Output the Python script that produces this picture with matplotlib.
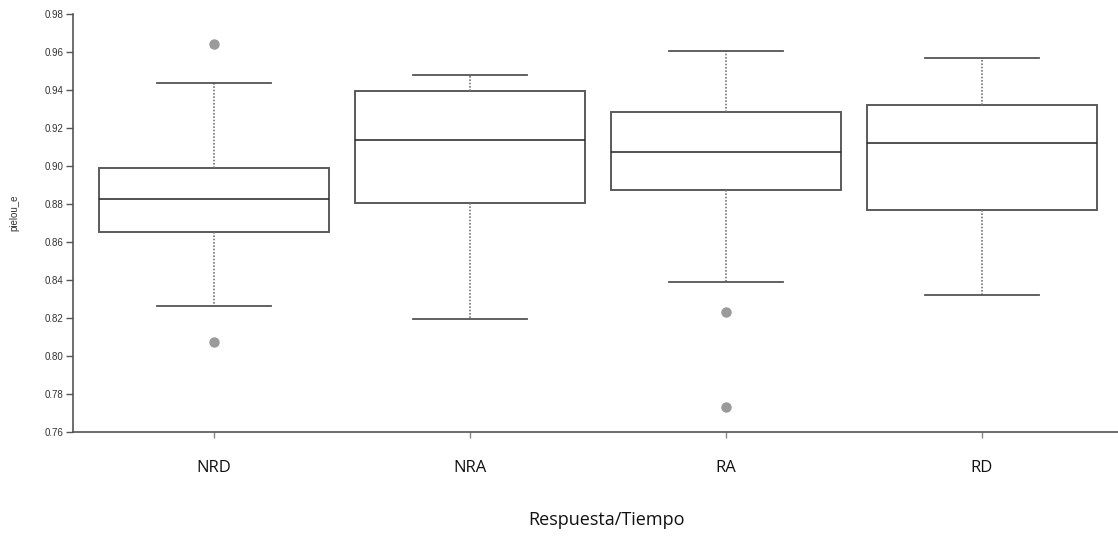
import matplotlib
matplotlib.use("Agg")
import matplotlib.pyplot as plt

# Group labels and five-number summaries of Pielou's evenness
groups = ["NRD", "NRA", "RA", "RD"]
whisker_low = [0.8265, 0.8195, 0.8388, 0.8320]
q1 = [0.8653, 0.8804, 0.8875, 0.8767]
median = [0.8825, 0.9137, 0.9075, 0.9120]
q3 = [0.8991, 0.9393, 0.9286, 0.9319]
whisker_high = [0.9435, 0.9481, 0.9607, 0.9570]
outliers = [[0.9641, 0.8075], [], [0.8230, 0.7733], []]

y_ticks = [0.76, 0.78, 0.80, 0.82, 0.84, 0.86, 0.88, 0.90, 0.92, 0.94, 0.96, 0.98]

W, H = 1118, 536
fig = plt.figure(figsize=(W / 100, H / 100), dpi=100)
ax = fig.add_axes([73 / W, 104 / H, (W - 73) / W, (432 - 14) / H])

stats = []
for i, g in enumerate(groups):
    stats.append(dict(label=g, whislo=whisker_low[i], q1=q1[i], med=median[i],
                      q3=q3[i], whishi=whisker_high[i], fliers=outliers[i]))

edge = "#5a5a5a"
ax.bxp(stats, positions=range(len(groups)), widths=0.9, patch_artist=True,
       boxprops=dict(facecolor="white", edgecolor=edge, linewidth=1.4),
       medianprops=dict(color="#222222", linewidth=1.1),
       whiskerprops=dict(color="#777777", linewidth=1.2, linestyle=(0, (1, 1))),
       capprops=dict(color="#555555", linewidth=1.3),
       capwidths=0.445,
       flierprops=dict(marker="o", markerfacecolor="#9a9a9a", markeredgecolor="#9a9a9a",
                       markersize=6.5))

ax.set_xlim(-(214 - 73) / 256, 3 + (W - 982) / 256)
ax.set_ylim(0.76, 0.98)
ax.set_yticks(y_ticks)
ax.set_yticklabels([f"{v:.2f}" for v in y_ticks], fontsize=7, color="#333333",
                   family="Liberation Sans")
ax.set_xticks(range(len(groups)))
ax.set_xticklabels(groups, fontsize=12, family="Open Sans", color="#111111")

for s in ["top", "right"]:
    ax.spines[s].set_visible(False)
for s in ["left", "bottom"]:
    ax.spines[s].set_color("#555555")
    ax.spines[s].set_linewidth(1.2)

ax.tick_params(axis="y", length=5, width=1, color="#555555", pad=2)
ax.tick_params(axis="x", length=4, width=1, color="#888888", pad=16)

ax.set_ylabel("pielou_e", fontsize=7, family="Liberation Sans", color="#333333")
ax.yaxis.set_label_coords(-(73 - 19) / (W - 73), (432 - 213) / (432 - 14))
ax.set_xlabel("Respuesta/Tiempo", fontsize=13, family="Open Sans", color="#111111")
ax.xaxis.set_label_coords((607 - 73) / (W - 73), -(520 - 432) / (432 - 14))
ax.xaxis.label.set_verticalalignment("center")

fig.savefig("out.png", dpi=100, facecolor="white")
